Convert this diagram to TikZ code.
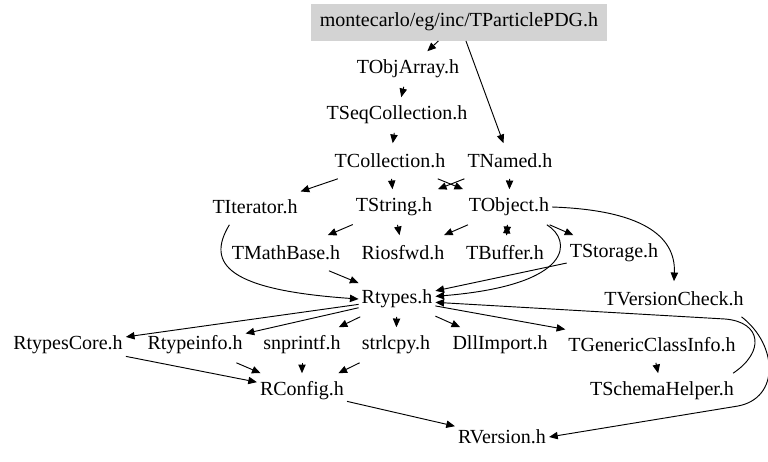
\documentclass[tikz,border=0pt]{standalone}
\usepackage{fontspec}
\setmainfont{Liberation Serif}
\usetikzlibrary{arrows.meta}
\definecolor{rootgray}{RGB}{211,211,211}
\tikzstyle{hfile}=[rectangle,minimum height=26pt,inner xsep=2pt,inner ysep=0pt,font=\fontsize{15}{18}\selectfont]
\tikzstyle{hroot}=[hfile,fill=rootgray,inner xsep=7pt,minimum height=27.75pt]

\begin{document}
\begin{tikzpicture}[x=0.75pt,y=-0.75pt,>={Triangle[length=6.5pt,width=5.5pt]},line width=0.7pt]
    \useasboundingbox (0,0) rectangle (768,461);
    \node[hroot] (pdg) at (459,22) {montecarlo/eg/inc/TParticlePDG.h};
    \node[hfile] (objarr) at (408,69) {TObjArray.h};
    \node[hfile] (seqcol) at (397,115) {TSeqCollection.h};
    \node[hfile] (coll) at (390,161) {TCollection.h};
    \node[hfile] (named) at (510,161) {TNamed.h};
    \node[hfile] (iter) at (255,207) {TIterator.h};
    \node[hfile] (str) at (394,207) {TString.h};
    \node[hfile] (obj) at (509,207) {TObject.h};
    \node[hfile] (mathb) at (286,253) {TMathBase.h};
    \node[hfile] (iosfwd) at (403,253) {Riosfwd.h};
    \node[hfile] (buf) at (505,253) {TBuffer.h};
    \node[hfile] (stor) at (614,253) {TStorage.h};
    \node[hfile] (rtypes) at (397,299) {Rtypes.h};
    \node[hfile] (vcheck) at (674,299) {TVersionCheck.h};
    \node[hfile] (rcore) at (68,345) {RtypesCore.h};
    \node[hfile] (rinfo) at (195,345) {Rtypeinfo.h};
    \node[hfile] (snpr) at (302,345) {snprintf.h};
    \node[hfile] (strl) at (396,345) {strlcpy.h};
    \node[hfile] (dll) at (500,345) {DllImport.h};
    \node[hfile] (gci) at (652,345) {TGenericClassInfo.h};
    \node[hfile] (rconf) at (302,391) {RConfig.h};
    \node[hfile] (schema) at (662,391) {TSchemaHelper.h};
    \node[hfile] (rver) at (502,437) {RVersion.h};

    \foreach \from/\to in {pdg/objarr,pdg/named,objarr/seqcol,seqcol/coll,coll/iter,coll/str,named/obj,
        str/mathb,str/iosfwd,obj/iosfwd,obj/buf,buf/obj,obj/stor,mathb/rtypes,stor/rtypes,
        rtypes/rcore,rtypes/rinfo,rtypes/snpr,rtypes/strl,rtypes/dll,rtypes/gci,
        rcore/rconf,rinfo/rconf,snpr/rconf,strl/rconf,gci/schema,rconf/rver}
    \draw[->] (\from) -- (\to);

    % crossing pair and the bent ones
    \draw[->] ([xshift=-8pt]coll.south east) -- ([xshift=-2pt]obj.north west);
    \draw[->] (named.south west) -- ([xshift=2pt]str.north east);
    \draw[->] ([xshift=15pt]iter.south west) .. controls (205,265) and (230,290) .. (rtypes.west);
    \draw[->] ([xshift=-4pt]obj.south east) .. controls (572,240) and (575,285) .. ([yshift=2pt]rtypes.east);
    \draw[->] (obj.east) .. controls (640,210) and (676,235) .. (vcheck.north);
    \draw[->] ([xshift=-3pt]schema.north east) .. controls (765,352) and (762,322) .. (725,319) -- ([yshift=-2.5pt]rtypes.east);
    \draw[->] ([xshift=-4pt]vcheck.south east) .. controls (778,345) and (780,398) .. (738,406) -- (rver.east);
\end{tikzpicture}
\end{document}
